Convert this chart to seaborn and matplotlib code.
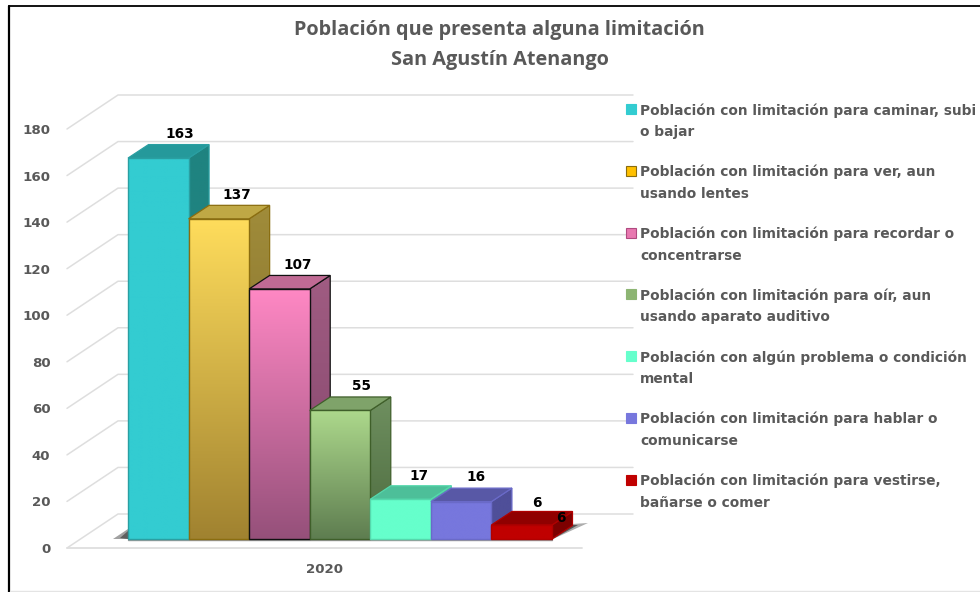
import numpy as np
import pandas as pd
import matplotlib
matplotlib.use("Agg")
import matplotlib.pyplot as plt
import seaborn as sns
from matplotlib.lines import Line2D
from matplotlib.patches import Polygon, Rectangle

# data
year = "2020"
title_lines = ["Población que presenta alguna limitación", "San Agustín Atenango"]
categories = [
    "Población con limitación para caminar, subi\no bajar",
    "Población con limitación para ver, aun\nusando lentes",
    "Población con limitación para recordar o\nconcentrarse",
    "Población con limitación para oír, aun\nusando aparato auditivo",
    "Población con algún problema o condición\nmental",
    "Población con limitación para hablar o\ncomunicarse",
    "Población con limitación para vestirse,\nbañarse o comer",
]
values = [163, 137, 107, 55, 17, 16, 6]
y_ticks = [0, 20, 40, 60, 80, 100, 120, 140, 160, 180]

# colours of each bar's faces
front_top = ["#33CCD1", "#FFDD5C", "#FF88C4", "#ADD98C", "#66FFCC", "#7777DD", "#C00000"]
front_bot = ["#33CCD1", "#A08230", "#95507A", "#5E7D50", "#66FFCC", "#7777DD", "#C00000"]
top_face = ["#25999B", "#BFA845", "#C06A94", "#7FA36A", "#4DBF99", "#5858A6", "#900000"]
side_top = ["#1F8380", "#A08C3A", "#A05C82", "#6F9060", "#4DBF99", "#4F4F99", "#7D0000"]
side_bot = ["#1F8380", "#7A6528", "#82446A", "#4C6A3E", "#4DBF99", "#4F4F99", "#7D0000"]
edges = ["#2A9FA2", "#8A6D10", "#111111", "#3F5F2A", "#55D8AC", "#6A6AC8", "#B00000"]
legend_fill = ["#33CCD1", "#FFC000", "#E878B0", "#8DB573", "#66FFCC", "#7777DD", "#C00000"]
legend_edge = ["#33CCD1", "#8A6D10", "#B04A80", "#8DB573", "#66FFCC", "#7777DD", "#C00000"]

W, H = 980, 592
X_PX = 60.57
Y_PX = 2.337
LEFT_PX, RIGHT_PX, TOP_PX, BOT_PX = 67, 633, 90, 548
BAR0_PX, BASE_PX = 128, 539
GRID = "#DEDEDE"
TEXT = "#595959"

sns.set_theme(style="white")
plt.rcParams["font.family"] = ["DejaVu Sans"]

fig = plt.figure(figsize=(W / 100, H / 100), dpi=100)
fig.patch.set_facecolor("white")
ax = fig.add_axes([LEFT_PX / W, 1 - BOT_PX / H, (RIGHT_PX - LEFT_PX) / W, (BOT_PX - TOP_PX) / H])

df = pd.DataFrame({"categoria": categories, "valor": values})
sns.barplot(data=df, x="categoria", y="valor", hue="categoria", palette=front_top,
            width=1.0, legend=False, ax=ax, zorder=3)

# px to data scale: first bar's left edge sits at BAR0_PX
ax.set_xlim(-0.5 + (LEFT_PX - BAR0_PX) / X_PX, -0.5 + (RIGHT_PX - BAR0_PX) / X_PX)
ax.set_ylim((BASE_PX - BOT_PX) / Y_PX, (BASE_PX - TOP_PX) / Y_PX)
x0, x1 = ax.get_xlim()
y0, y1 = ax.get_ylim()

# chart walls
wall_dx = 51 / X_PX
wall_dy = 34 / Y_PX
front_y = [y0 + v * (419 / 180) / Y_PX for v in y_ticks]
floor_x = x1 - wall_dx
for fy in front_y:
    ax.plot([x0, x0 + wall_dx, x1], [fy, fy + wall_dy, fy + wall_dy],
            color=GRID, lw=1.1, zorder=1, clip_on=False)
ax.plot([x0, floor_x], [y0, y0], color=GRID, lw=1.3, zorder=1, clip_on=False)

# depth of the bars
bar_dx = 20.5 / X_PX
bar_dy = 13.5 / Y_PX
first = -0.5
last = -0.5 + len(values)


def off(xv, yv, px, py):
    # data point moved by some pixels
    return (xv + px / X_PX, yv + py / Y_PX)


# floor shadow, two layers so that it fades out
ax.add_patch(Polygon([off(first, 0, -15, 0), off(first, 0, 0, 10), off(first, 0, 0, 0)],
                     closed=True, fc="#555555", ec="none", alpha=0.55, zorder=2))
ax.add_patch(Polygon([off(first, 0, -8, 1), off(first, 0, 0, 8), off(first, 0, 0, 0)],
                     closed=True, fc="#333333", ec="none", alpha=0.6, zorder=2))
ax.add_patch(Polygon([off(last, 0, 0, -0.5), off(last, 0, 20, 15), off(last, 0, 36, 16)],
                     closed=True, fc="#777777", ec="none", alpha=0.6, zorder=2))
ax.add_patch(Polygon([off(last, 0, 0, -0.5), off(last, 0, 20, 14), off(last, 0, 26, 14)],
                     closed=True, fc="#333333", ec="none", alpha=0.7, zorder=2))
ax.plot([first, last], [-0.5, -0.5], color="#999999", lw=1.0, zorder=2)


def gradient(poly_pts, c_top, c_bot, z):
    # vertical gradient clipped to a polygon
    pts = np.array(poly_pts)
    ramp = np.linspace(0, 1, 256)[:, None, None]
    a = np.array(matplotlib.colors.to_rgb(c_top))[None, None, :]
    b = np.array(matplotlib.colors.to_rgb(c_bot))[None, None, :]
    img = a * (1 - ramp) + b * ramp
    im = ax.imshow(img, extent=[pts[:, 0].min(), pts[:, 0].max(), pts[:, 1].min(), pts[:, 1].max()],
                   origin="upper", aspect="auto", zorder=z, interpolation="bilinear")
    clip = Polygon(pts, closed=True, transform=ax.transData)
    im.set_clip_path(clip)


# build the 3D faces from the bars seaborn drew
bars = [p for p in ax.patches if isinstance(p, Rectangle)][:len(values)]
for i, bar in enumerate(bars):
    l, b, w, h = bar.get_x(), bar.get_y(), bar.get_width(), bar.get_height()
    r, t = l + w, b + h
    z = 3 + i * 0.1
    side = [(r, b), (r + bar_dx, b + bar_dy), (r + bar_dx, t + bar_dy), (r, t)]
    gradient(side, side_top[i], side_bot[i], z)
    ax.add_patch(Polygon(side, closed=True, fc="none", ec=edges[i], lw=0.9, zorder=z + 0.01))
    top = [(l, t), (l + bar_dx, t + bar_dy), (r + bar_dx, t + bar_dy), (r, t)]
    ax.add_patch(Polygon(top, closed=True, fc=top_face[i], ec=edges[i], lw=0.9, zorder=z + 0.02))
    gradient([(l, b), (r, b), (r, t), (l, t)], front_top[i], front_bot[i], z + 0.03)
    ax.add_patch(Polygon([(l, b), (r, b), (r, t), (l, t)], closed=True, fc="none",
                         ec=edges[i], lw=1.0, zorder=z + 0.04))
    bar.set_visible(False)

ax.set_xlim(x0, x1)
ax.set_ylim(y0, y1)

# value labels, shifted off the bars in pixels
label_shift = [(22, 24), (18, 24), (18, 24), (22, 24), (18.5, 23), (15, 24.5), (15.5, 22)]
for i, v in enumerate(values):
    ax.annotate(str(v), (i, v), xytext=(label_shift[i][0] * 0.72, label_shift[i][1] * 0.72),
                textcoords="offset points", ha="center", va="center", fontsize=9.8,
                fontweight="bold", color="black", zorder=9)
ax.annotate(str(values[-1]), (6, values[-1]), xytext=(39.5 * 0.72, 7 * 0.72), textcoords="offset points",
            ha="center", va="center", fontsize=9.8, fontweight="bold", color="black", zorder=9)

ax.set_yticks(front_y)
ax.set_yticklabels(y_ticks, fontsize=9.6, fontweight="bold", color=TEXT)
ax.set_xticks([(x0 + floor_x) / 2])
ax.set_xticklabels([year], fontsize=9.6, fontweight="bold", color=TEXT)
ax.tick_params(axis="y", length=0, pad=12)
ax.tick_params(axis="x", length=0, pad=11)
ax.set_xlabel("")
ax.set_ylabel("")
sns.despine(ax=ax, left=True, bottom=True)
ax.patch.set_alpha(0)

# title
fig.text(499.5 / W, 1 - 30.5 / H, title_lines[0], ha="center", va="center", fontsize=14.3,
         fontweight="bold", color=TEXT, family="Open Sans")
fig.text(499.5 / W, 1 - 59.5 / H, title_lines[1], ha="center", va="center", fontsize=14.3,
         fontweight="bold", color=TEXT, family="Open Sans")

# legend entries, square lines up with the first text row
for i, label in enumerate(categories):
    row_y = 109 + i * 61.8
    fig.add_artist(Rectangle((625.5 / W, 1 - (row_y + 5) / H), 10 / W, 10 / H, transform=fig.transFigure,
                             fc=legend_fill[i], ec=legend_edge[i], lw=0.8, zorder=6))
    fig.text(640 / W, 1 - (row_y - 6) / H, label, ha="left", va="top", fontsize=9.95,
             fontweight="bold", color=TEXT, linespacing=1.68)

# outer frame: only top and left are black, bottom is a faint line
fig.add_artist(Line2D([9 / W, 1], [1 - 6 / H, 1 - 6 / H], color="black", lw=1.3, transform=fig.transFigure))
fig.add_artist(Line2D([9 / W, 9 / W], [0, 1 - 6 / H], color="black", lw=1.6, transform=fig.transFigure))
fig.add_artist(Line2D([10 / W, 1], [1 - 591 / H, 1 - 591 / H], color="#E4E4E4", lw=1.0, transform=fig.transFigure))

fig.savefig("out.png", dpi=100)
